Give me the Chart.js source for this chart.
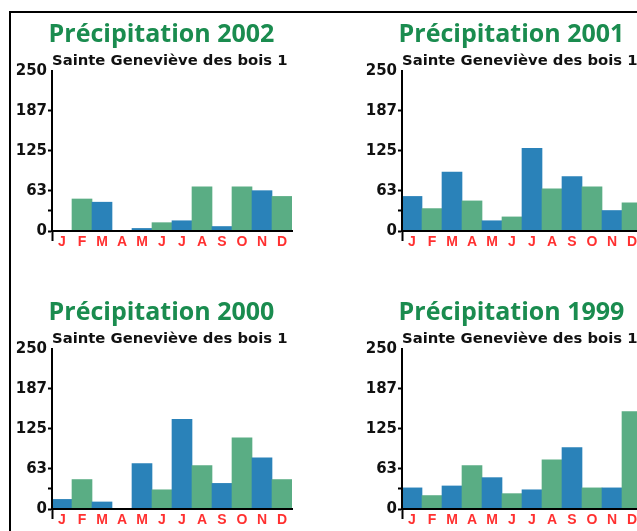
<!DOCTYPE html>
<html>
<head>
<meta charset="utf-8">
<script src="https://cdn.jsdelivr.net/npm/chart.js@4.4.0/dist/chart.umd.min.js"></script>
<style>
  html, body { margin: 0; padding: 0; background: #fff; overflow: hidden; width: 637px; height: 531px; }
  #frame { position: absolute; left: 9px; top: 11px; width: 700px; height: 600px; border-top: 2px solid #000; border-left: 2px solid #000; }
  canvas { position: absolute; }
</style>
</head>
<body>
<div id="frame"></div>
<canvas id="c2002" width="301" height="240" style="left:11px;top:13px"></canvas>
<canvas id="c2001" width="301" height="240" style="left:361px;top:13px"></canvas>
<canvas id="c2000" width="301" height="240" style="left:11px;top:291px"></canvas>
<canvas id="c1999" width="301" height="240" style="left:361px;top:291px"></canvas>
<script>
// data (mm)
const months = ['J', 'F', 'M', 'A', 'M', 'J', 'J', 'A', 'S', 'O', 'N', 'D'];
const rain2002 = [0, 50, 45, 0, 4, 13, 16, 69, 7, 69, 63, 54];
const rain2001 = [54, 35, 92, 47, 16, 22, 129, 66, 85, 69, 32, 44];
const rain2000 = [15, 46, 11, 0, 71, 30, 140, 68, 40, 111, 80, 46];
const rain1999 = [33, 21, 36, 68, 49, 24, 30, 77, 96, 33, 33, 152];
const yTicks = [0, 31.25, 62.5, 125, 187.5, 250];
const yTickLabels = ['0', '', '63', '125', '187', '250'];
const station = 'Sainte Geneviève des bois 1';

const blue = '#2a82b9';
const green = '#5aad84';

function makeChart(id, year, values) {
  const ctx = document.getElementById(id);
  new Chart(ctx, {
    type: 'bar',
    data: {
      labels: months,
      datasets: [{
        data: values,
        backgroundColor: values.map((v, i) => (i % 2 === 0 ? blue : green)),
        borderWidth: 0,
        barPercentage: 1,
        categoryPercentage: 1
      }]
    },
    options: {
      responsive: false,
      animation: false,
      devicePixelRatio: 1,
      layout: { padding: 0 },
      plugins: {
        legend: { display: false },
        tooltip: { enabled: false },
        title: {
          display: true,
          text: 'Précipitation ' + year,
          color: '#1a8c4f',
          font: { family: "'Open Sans'", size: 25, weight: 'bold', lineHeight: 1.2 },
          padding: { top: 6.5, bottom: 0 }
        },
        subtitle: {
          display: true,
          text: station,
          align: 'start',
          fullSize: false,
          color: '#111',
          font: { family: "'DejaVu Sans'", size: 14.8, weight: 'bold', lineHeight: 1.2 },
          padding: { top: 2.5, bottom: 1.2 }
        }
      },
      scales: {
        x: {
          afterFit: (scale) => { scale.height = 22; },
          grid: {
            drawOnChartArea: false,
            drawTicks: true,
            tickLength: 10,
            tickWidth: 2,
            tickColor: (c) => (c.index === 0 ? '#000' : 'rgba(0,0,0,0)')
          },
          border: { display: true, color: '#000', width: 2, z: 1 },
          ticks: {
            color: '#ff3030',
            autoSkip: false,
            maxRotation: 0,
            padding: -7.4,
            font: { family: "'Liberation Sans'", size: 14, weight: 'bold' }
          }
        },
        y: {
          min: 0,
          max: 250,
          afterFit: (scale) => { scale.width = 41; },
          afterBuildTicks: (scale) => { scale.ticks = yTicks.map((v) => ({ value: v })); },
          grid: {
            drawOnChartArea: false,
            drawTicks: true,
            tickLength: 4,
            tickWidth: 2,
            tickColor: (c) => (c.tick && c.tick.value === 250 ? 'rgba(0,0,0,0)' : '#000')
          },
          border: { display: true, color: '#000', width: 2, z: 1 },
          ticks: {
            color: '#111',
            autoSkip: false,
            padding: 1,
            font: { family: "'DejaVu Sans'", size: 15, weight: 'bold' },
            callback: (v) => yTickLabels[yTicks.indexOf(v)]
          }
        },
        // empty right-hand box so the plot ends before the title's centre line
        spacer: {
          position: 'right',
          display: true,
          afterFit: (scale) => { scale.width = 20; },
          grid: { display: false },
          border: { display: false },
          ticks: { display: false }
        }
      }
    }
  });
}

makeChart('c2002', '2002', rain2002);
makeChart('c2001', '2001', rain2001);
makeChart('c2000', '2000', rain2000);
makeChart('c1999', '1999', rain1999);
</script>
</body>
</html>
